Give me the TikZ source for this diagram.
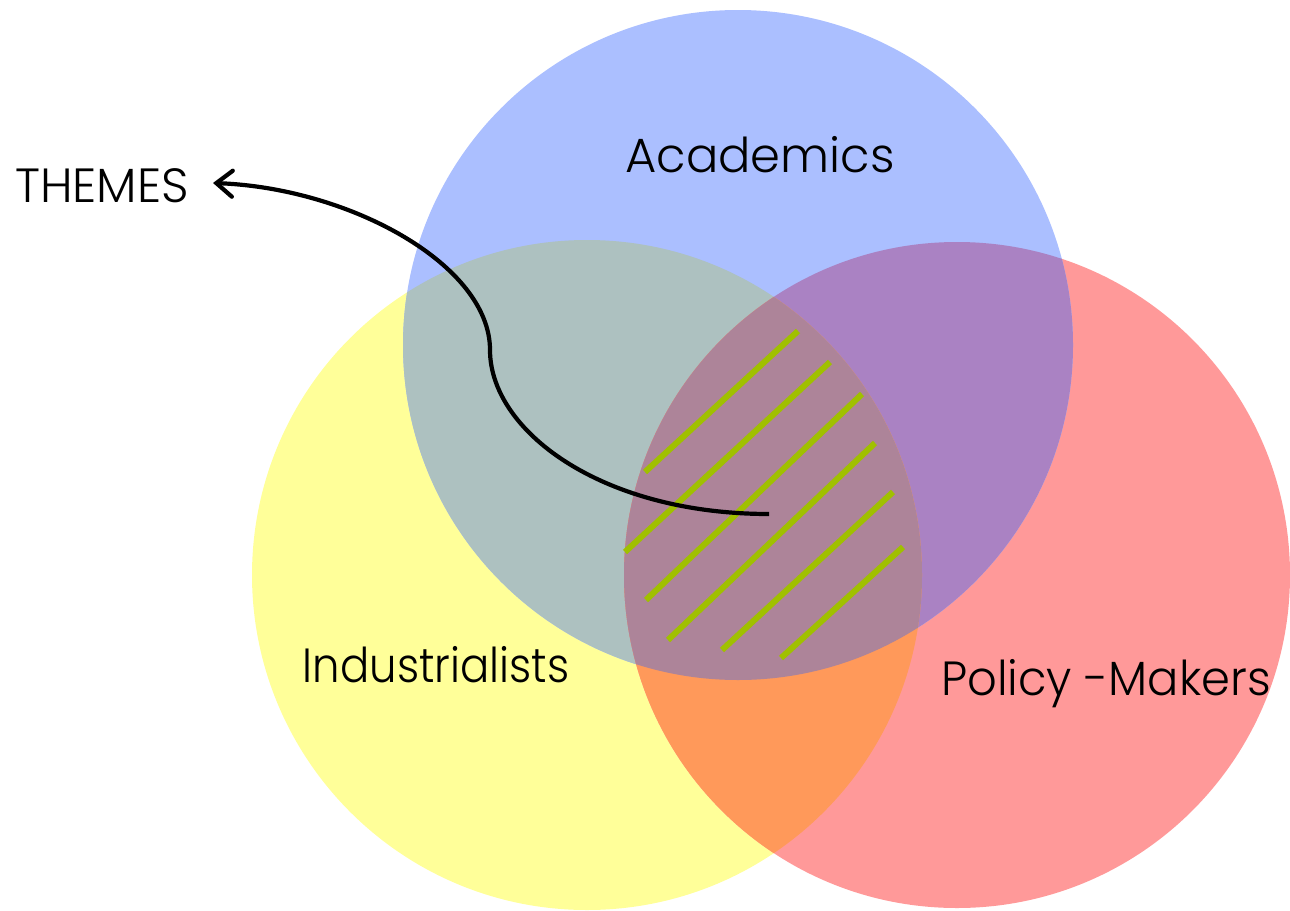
\documentclass[tikz,border=0pt]{standalone}
\usepackage{fontspec}
\setmainfont{Poppins}[UprightFont={* Light}]
\usetikzlibrary{arrows.meta}
\definecolor{cblue}{HTML}{ABBFFF}
\definecolor{cyellow}{HTML}{FFFF99}
\definecolor{cred}{HTML}{FF9999}
\definecolor{cyb}{HTML}{ADC1C0}
\definecolor{cbr}{HTML}{AA82C3}
\definecolor{cyr}{HTML}{FF995A}
\definecolor{cybr}{HTML}{AD8499}
\definecolor{chatch}{HTML}{A0C000}
\tikzset{
  lbl/.style={anchor=base, inner sep=0pt, font=\fontsize{48}{54}\selectfont},
  hatch/.style={draw=chatch, line width=6pt},
  themearrow/.style={line width=4.2pt, -{Straight Barb[length=16pt,width=26pt,line cap=round]}}
}
\begin{document}
\begin{tikzpicture}[x=1pt,y=-1pt]
\useasboundingbox (0,0) rectangle (1290,910);
\def\blueC{(738,345) circle (335)}
\def\yelC{(587,575) circle (335)}
\def\redC{(957,575) circle (333)}
\fill[cyellow] \yelC;
\fill[cred] \redC;
\fill[cblue] \blueC;
\begin{scope}\clip \yelC; \fill[cyb] \blueC; \end{scope}
\begin{scope}\clip \redC; \fill[cbr] \blueC; \end{scope}
\begin{scope}\clip \yelC; \fill[cyr] \redC; \end{scope}
\begin{scope}\clip \yelC; \clip \redC; \fill[cybr] \blueC; \end{scope}
% hatching
\draw[hatch] (645,472) -- (798,331);
\draw[hatch] (625,552) -- (830,362);
\draw[hatch] (646,600) -- (862,394);
\draw[hatch] (668,640) -- (875,443);
\draw[hatch] (722,650) -- (893,492);
\draw[hatch] (781,658) -- (903,547);
% labels
\node[lbl] (acad) at (760,172) {Academics};
\node[lbl] (ind) at (436,682) {\scalebox{0.904}[1]{Industrialists}};
\node[lbl] (pol) at (1106,695) {\scalebox{0.967}[1]{Policy -Makers}};
\node[lbl] (themes) at (102,202) {THEMES};
\coordinate (cstart) at (769,514);
\coordinate (ctip) at (213,183);
\draw[themearrow] (cstart) .. controls (600,514) and (490,430) .. (490,350)
  .. controls (490,265) and (350,188) .. (ctip);
\end{tikzpicture}
\end{document}
